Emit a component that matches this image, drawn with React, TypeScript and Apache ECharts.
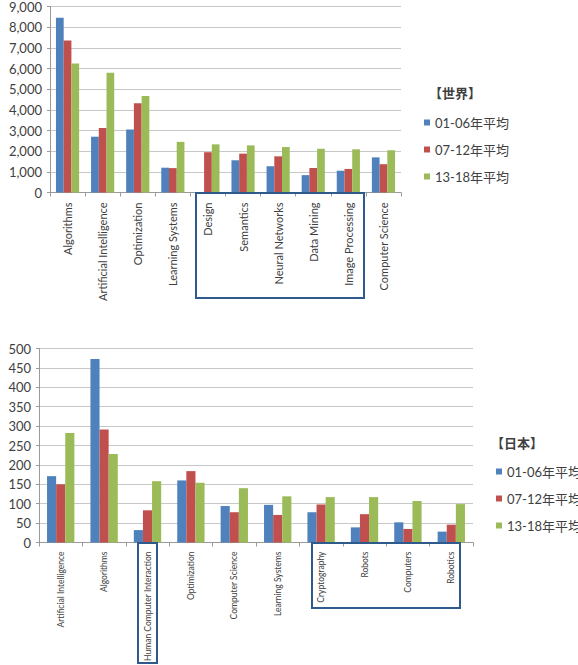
import React, { useEffect, useRef } from "react";
import * as echarts from "echarts";

// 世界: average paper counts per research field
const worldCategories = [
  "Algorithms",
  "Artificial Intelligence",
  "Optimization",
  "Learning Systems",
  "Design",
  "Semantics",
  "Neural Networks",
  "Data Mining",
  "Image Processing",
  "Computer Science",
];
const world0106 = [8450, 2700, 3050, 1200, 0, 1560, 1270, 840, 1050, 1700];
const world0712 = [7350, 3120, 4320, 1180, 1950, 1880, 1750, 1190, 1140, 1370];
const world1318 = [6240, 5790, 4670, 2450, 2330, 2280, 2200, 2120, 2090, 2040];

// 日本: average paper counts per research field
const japanCategories = [
  "Artificial Intelligence",
  "Algorithms",
  "Human Computer Interaction",
  "Optimization",
  "Computer Science",
  "Learning Systems",
  "Cryptography",
  "Robots",
  "Computers",
  "Robotics",
];
const japan0106 = [171, 473, 32, 160, 94, 97, 78, 39, 52, 28];
const japan0712 = [150, 291, 83, 184, 78, 71, 98, 73, 35, 46];
const japan1318 = [282, 228, 158, 154, 140, 119, 117, 117, 107, 99];

const periodNames = ["01-06年平均", "07-12年平均", "13-18年平均"];
const periodColors = ["#4F81BD", "#C0504D", "#9BBB59"];

const worldTicks = { min: 0, max: 9000, interval: 1000 };
const japanTicks = { min: 0, max: 500, interval: 50 };

const FONT = "Lato, 'Noto Sans CJK JP', sans-serif";
const TEXT_COLOR = "#404040";
const AXIS_COLOR = "#9a9a9a";
const GRID_COLOR = "#c8c8c8";
const BOX_COLOR = "#2E5A8C";

function categoryAxis(gridIndex: number, data: string[], fontSize: number, margin: number) {
  return {
    type: "category",
    gridIndex,
    data,
    axisLine: { show: true, lineStyle: { color: AXIS_COLOR, width: 1 } },
    axisTick: { show: true, length: 4, lineStyle: { color: AXIS_COLOR } },
    axisLabel: {
      interval: 0,
      rotate: 90,
      margin,
      fontSize,
      color: TEXT_COLOR,
      fontFamily: FONT,
    },
  };
}

function valueAxis(
  gridIndex: number,
  ticks: { min: number; max: number; interval: number },
  formatter: (v: number) => string
) {
  return {
    type: "value",
    gridIndex,
    min: ticks.min,
    max: ticks.max,
    interval: ticks.interval,
    axisLine: { show: true, lineStyle: { color: AXIS_COLOR, width: 1 } },
    axisTick: { show: true, length: 3, lineStyle: { color: AXIS_COLOR } },
    splitLine: { show: true, lineStyle: { color: GRID_COLOR, width: 1.2 } },
    axisLabel: {
      fontSize: 13,
      color: TEXT_COLOR,
      fontFamily: FONT,
      margin: 8,
      formatter,
    },
  };
}

function barSeries(
  name: string,
  color: string,
  data: number[],
  axisIndex: number,
  gap: string
) {
  return {
    type: "bar",
    name,
    data,
    xAxisIndex: axisIndex,
    yAxisIndex: axisIndex,
    itemStyle: { color },
    barGap: "0%",
    barCategoryGap: gap,
  };
}

function legendBlock(left: number, top: number) {
  return {
    data: periodNames,
    orient: "vertical",
    left,
    top,
    padding: 0,
    icon: "rect",
    itemWidth: 6,
    itemHeight: 6,
    itemGap: 14,
    selectedMode: false,
    textStyle: { fontSize: 13, color: TEXT_COLOR, fontFamily: FONT },
  };
}

export default function App() {
  const ref = useRef<HTMLDivElement>(null);

  useEffect(() => {
    if (!ref.current) return;
    const chart = echarts.init(ref.current, undefined, { renderer: "svg" });

    const worldSets = [world0106, world0712, world1318];
    const japanSets = [japan0106, japan0712, japan1318];

    chart.setOption({
      animation: false,
      backgroundColor: "#ffffff",
      textStyle: { fontFamily: FONT },
      title: [
        {
          text: "【世界】",
          left: 429,
          top: 86,
          padding: 0,
          textStyle: { fontSize: 13, fontWeight: "bold", color: TEXT_COLOR, fontFamily: FONT },
        },
        {
          text: "【日本】",
          left: 491,
          top: 436,
          padding: 0,
          textStyle: { fontSize: 13, fontWeight: "bold", color: TEXT_COLOR, fontFamily: FONT },
        },
      ],
      legend: [legendBlock(424, 116), legendBlock(496, 465)],
      grid: [
        { left: 50, top: 5, width: 351, height: 187.5, containLabel: false },
        { left: 39, top: 348.5, width: 434, height: 194, containLabel: false },
      ],
      xAxis: [
        categoryAxis(0, worldCategories, 11, 10),
        categoryAxis(1, japanCategories, 8.5, 9),
      ],
      yAxis: [
        valueAxis(0, worldTicks, (v: number) => v.toLocaleString("en-US")),
        valueAxis(1, japanTicks, (v: number) => String(v)),
      ],
      series: [
        ...periodNames.map((n, i) => barSeries(n, periodColors[i], worldSets[i], 0, "34%")),
        ...periodNames.map((n, i) => barSeries(n, periodColors[i], japanSets[i], 1, "37%")),
      ],
      graphic: [
        {
          type: "rect",
          shape: { x: 196, y: 193, width: 168, height: 105 },
          style: { fill: "none", stroke: BOX_COLOR, lineWidth: 2 },
          z: 100,
        },
        {
          type: "rect",
          shape: { x: 138, y: 543, width: 19, height: 120 },
          style: { fill: "none", stroke: BOX_COLOR, lineWidth: 2 },
          z: 100,
        },
        {
          type: "rect",
          shape: { x: 312, y: 543, width: 148, height: 65 },
          style: { fill: "none", stroke: BOX_COLOR, lineWidth: 2 },
          z: 100,
        },
      ],
    });

    return () => chart.dispose();
  }, []);

  return (
    <div
      ref={ref}
      style={{ position: "fixed", left: 0, top: 0, width: 578, height: 665 }}
    />
  );
}
